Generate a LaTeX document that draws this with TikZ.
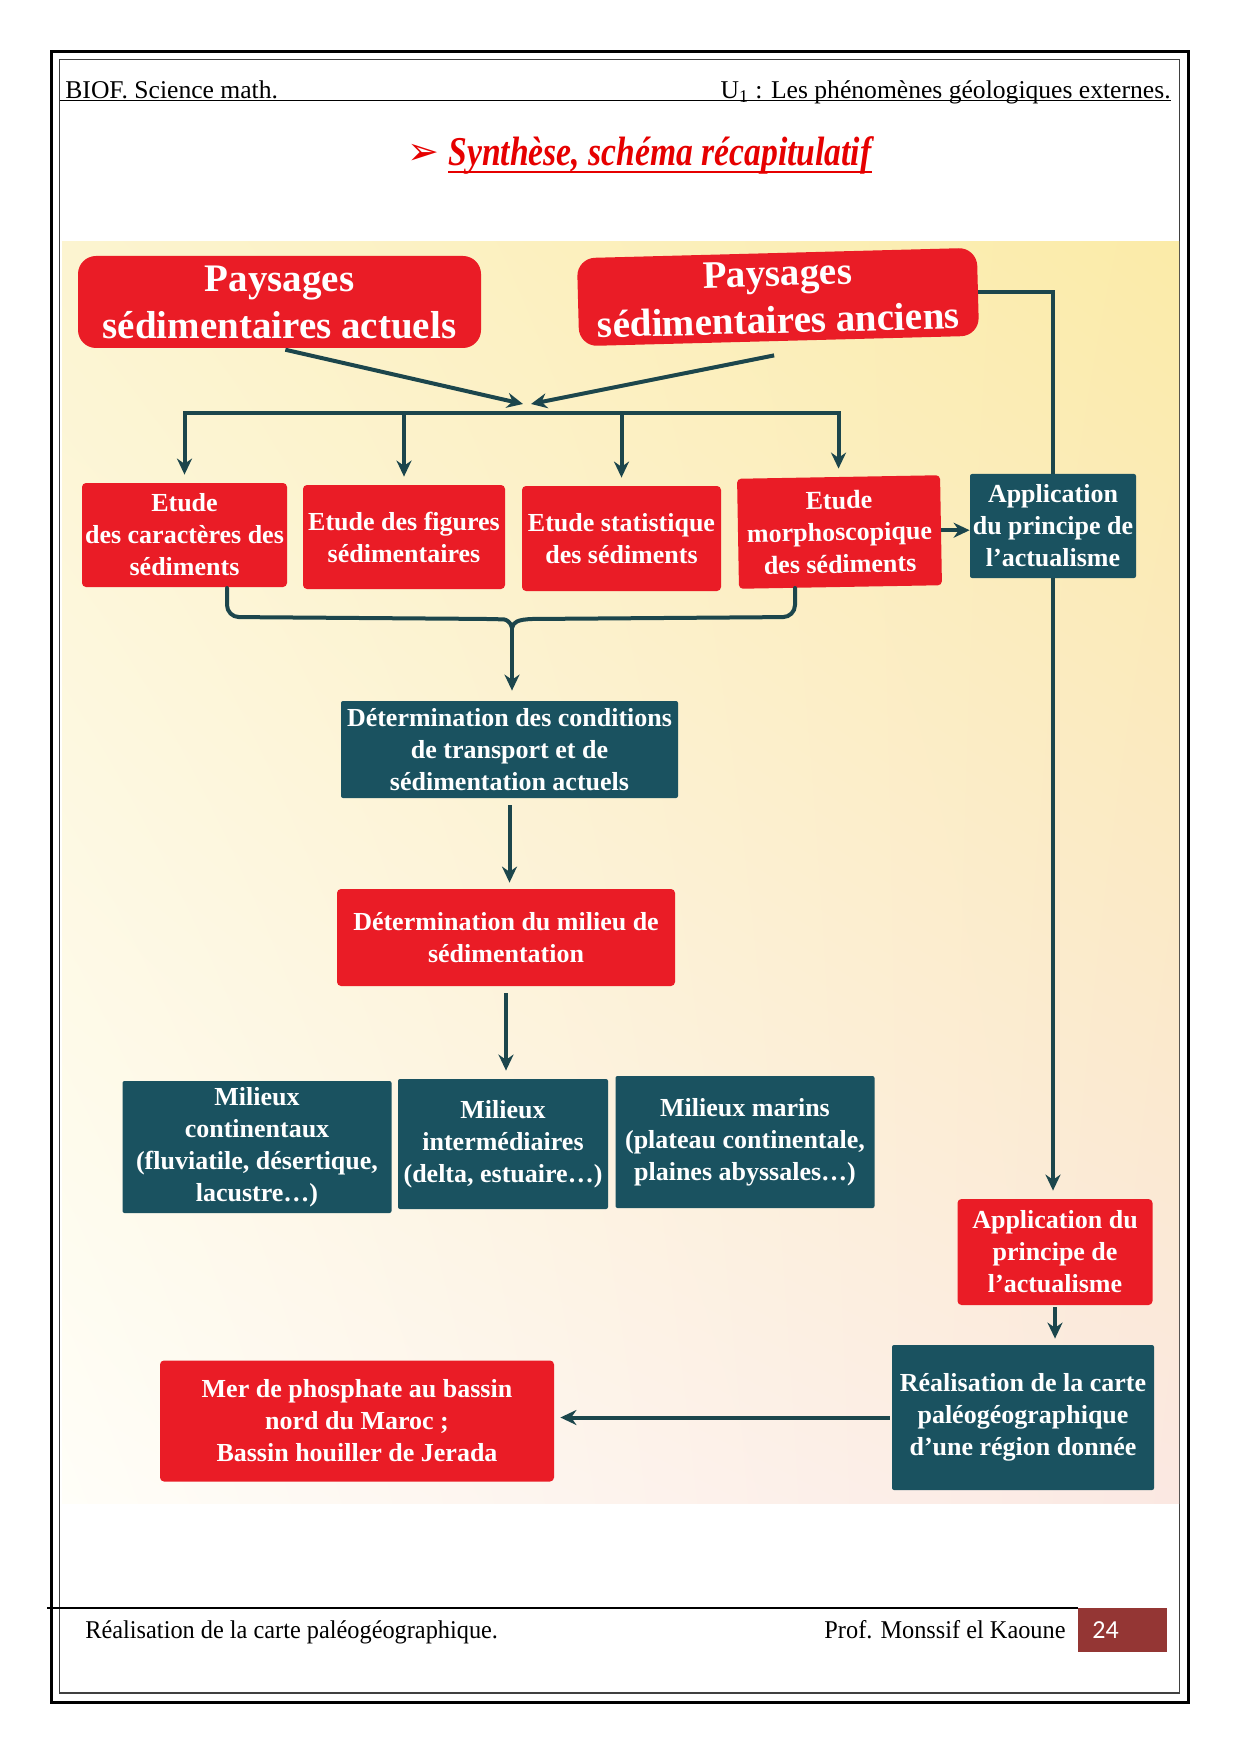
\documentclass[tikz,border=0pt]{standalone}
\usepackage{fontspec}
\setmainfont{Liberation Serif}
\newfontfamily\ttlfont[FakeStretch=0.82]{Liberation Serif}
\newfontfamily\ftrfont[FakeStretch=0.95]{Liberation Serif}
\newfontfamily\symfont{DejaVu Sans}
\newfontfamily\pgfont{Carlito}
\usetikzlibrary{arrows.meta,calc,shadings}
\definecolor{boxred}{RGB}{234,28,38}
\definecolor{boxteal}{RGB}{26,82,96}
\definecolor{lnteal}{RGB}{28,70,76}
\definecolor{pgred}{RGB}{148,54,52}
\definecolor{titlered}{RGB}{230,0,0}
\definecolor{bgUL}{RGB}{252,244,208}
\definecolor{bgUR}{RGB}{251,235,168}
\definecolor{bgLL}{RGB}{255,254,248}
\definecolor{bgLR}{RGB}{251,232,226}
\begin{document}
\begin{tikzpicture}[x=0.5pt,y=-0.5pt,
  redbox/.style={fill=boxred, text=white, rounded corners=2pt, align=center,
    font=\fontsize{13}{16}\selectfont\bfseries, inner sep=0pt},
  tealbox/.style={fill=boxteal, text=white, rounded corners=1pt, align=center,
    font=\fontsize{13}{16}\selectfont\bfseries, inner sep=0pt},
  bigbox/.style={fill=boxred, text=white, rounded corners=9pt, align=center,
    font=\fontsize{19.5}{23.5}\selectfont\bfseries, inner sep=0pt},
  lin/.style={draw=lnteal, line width=2pt},
  arr/.style={lin, -{Stealth[length=8pt,width=7.5pt]}},
  hdr/.style={inner sep=0pt, font=\fontsize{12.8}{15}\selectfont},
  ftr/.style={inner sep=0pt, font=\ftrfont\fontsize{12.8}{15}\selectfont},
]
\useasboundingbox (0,0) rectangle (1240,1754);
\fill[white] (0,0) rectangle (1240,1754);
% page borders
\draw[black, line width=1.5pt] (51.5,51.5) rectangle (1188.5,1702);
\draw[black!75, line width=0.75pt] (59.5,59.5) rectangle (1179.5,1693);
% header
\node[hdr, anchor=base west] (h1) at (65,99) {BIOF. Science math.};
\node[hdr, anchor=base east] (h2) at (1171,99) {U\textsubscript{1} : Les phénomènes géologiques externes.};
\draw[black, line width=0.7pt] (59.5,100.5) -- (1171,100.5);
% title
\node[inner sep=0pt, text=titlered, font=\symfont\fontsize{19}{22}\selectfont] (tarrow) at (423,154) {➢};
\node[inner sep=0pt, anchor=base west, text=titlered, font=\ttlfont\fontsize{20.5}{24}\selectfont\bfseries\itshape] (title) at (448,166) {Synthèse, schéma récapitulatif};
\draw[titlered, line width=1.2pt] ($(title.base west)+(0,6)$) -- ($(title.base east)+(0,6)$);
% background
\shade[upper left=bgUL, upper right=bgUR, lower left=bgLL, lower right=bgLR] (62,242) rectangle (1179,1503);
% nodes
\node[bigbox, minimum width=201.5pt, minimum height=46pt] (P1) at (279.5,302) {Paysages\\sédimentaires actuels};
\node[bigbox, minimum width=200pt, minimum height=44pt, rotate=1.5] (P2) at (778,297) {Paysages\\sédimentaires anciens};
\node[redbox, minimum width=102.5pt, minimum height=52pt] (a) at (184.5,535) {Etude\\des caractères des\\sédiments};
\node[redbox, minimum width=101pt, minimum height=52pt] (b) at (404,537) {Etude des figures\\sédimentaires};
\node[redbox, minimum width=99.5pt, minimum height=52.5pt] (c) at (621.5,538.5) {Etude statistique\\des sédiments};
\node[redbox, minimum width=101.5pt, minimum height=55pt, rotate=1] (d) at (839.5,532) {Etude\\morphoscopique\\des sédiments};
\node[tealbox, minimum width=83pt, minimum height=52pt] (e) at (1053,526) {Application\\du principe de\\l'actualisme};
\node[tealbox, minimum width=168.5pt, minimum height=48.5pt] (D) at (509.5,749.5) {Détermination des conditions\\de transport et de\\sédimentation actuels};
\node[redbox, minimum width=169pt, minimum height=48.5pt] (E) at (506,937.5) {Détermination du milieu de\\sédimentation};
\node[tealbox, minimum width=134.5pt, minimum height=66pt] (m1) at (257,1147) {Milieux\\continentaux\\(fluviatile, désertique,\\lacustre…)};
\node[tealbox, minimum width=105pt, minimum height=65pt] (m2) at (503,1144) {Milieux\\intermédiaires\\(delta, estuaire…)};
\node[tealbox, minimum width=129.5pt, minimum height=66pt] (m3) at (745,1142) {Milieux marins\\(plateau continentale,\\plaines abyssales…)};
\node[redbox, minimum width=97.5pt, minimum height=53pt] (f) at (1055,1252) {Application du\\principe de\\l'actualisme};
\node[tealbox, minimum width=131pt, minimum height=72.5pt] (g) at (1023,1417.5) {Réalisation de la carte\\paléogéographique\\d'une région donnée};
\node[redbox, minimum width=197pt, minimum height=60.5pt] (h) at (357,1421) {Mer de phosphate au bassin\\nord du Maroc ;\\Bassin houiller de Jerada};
% connectors
\coordinate (M) at (527,404);
\coordinate (bar) at (0,413);
\draw[arr, shorten <=3pt] (P1.south) -- ($(M)+(-4,0)$);
\draw[arr] ($(P2.south)+(-5,14)$) -- ($(M)+(4,0)$);
\draw[lin, line join=miter, {Stealth[length=8pt,width=7.5pt]}-{Stealth[length=8pt,width=7.5pt]}, shorten <=4pt, shorten >=4pt]
  (a.north) -- (a.north |- bar) -- (d.north |- bar) -- (d.north);
\draw[arr, shorten >=4pt] (b.north |- bar) -- (b.north);
\draw[arr, shorten >=4pt] (c.north |- bar) -- (c.north);
\draw[arr] (d.east) -- (d.east -| e.west);
\draw[lin, line join=miter] (P2.east) -- (P2.east -| e.north) -- (e.north);
\draw[arr, shorten >=4pt] (e.south) -- (e.south |- f.north);
\draw[arr, shorten <=1pt, shorten >=3pt] (f.south) -- (f.south |- g.north);
\draw[arr, shorten <=1pt, shorten >=3pt] (g.west) -- (g.west -| h.east);
% brace
\coordinate (bl) at (227,588);
\coordinate (br) at (795,588);
\coordinate (T) at (512,628);
\draw[lin, line cap=round, line join=round] (bl) [rounded corners=6pt] -- (227,617) -- (492,619) [sharp corners]
  .. controls (506,619.5) and (511,622) .. (T)
  .. controls (513,622) and (518,619.5) .. (532,619) [rounded corners=6pt] -- (795,617) -- (br);
\draw[arr, shorten >=5pt] (T) -- (T |- D.north);
\draw[arr, shorten <=3.5pt, shorten >=3pt] (D.south) -- (D.south |- E.north);
\draw[arr, shorten <=3.5pt, shorten >=4pt] (E.south) -- (E.south |- m2.north);
% footer
\draw[black, line width=0.7pt] (47,1608) -- (1078,1608);
\node[ftr, anchor=base west] (f1) at (85,1638) {Réalisation de la carte paléogéographique.};
\node[ftr, anchor=base east] (f2) at (1066,1638) {Prof. Monssif el Kaoune};
\fill[pgred] (1078,1608) rectangle (1167,1652);
\node[inner sep=0pt, anchor=base west, text=white, font=\pgfont\fontsize{13}{15}\selectfont] (pg) at (1092,1638) {24};
\end{tikzpicture}
\end{document}
